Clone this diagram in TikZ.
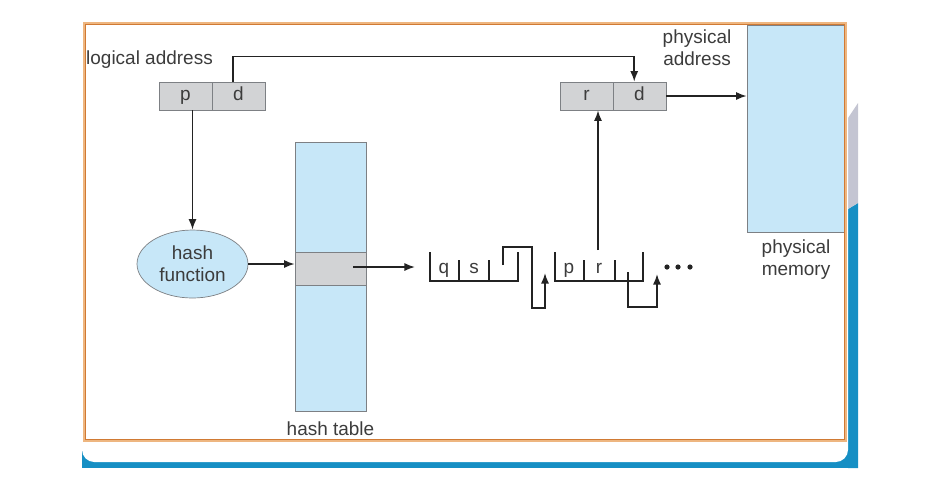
\documentclass[tikz,border=0pt]{standalone}
\usepackage{fontspec}
\setmainfont{Liberation Sans}
\usetikzlibrary{arrows.meta, shapes.geometric}

\definecolor{memblue}{RGB}{199,231,248}
\definecolor{cellgray}{RGB}{210,211,213}
\definecolor{edgegray}{RGB}{125,128,132}
\definecolor{textgray}{RGB}{60,60,60}
\definecolor{linegray}{RGB}{35,35,35}
\definecolor{frameorange}{RGB}{238,182,128}
\definecolor{framedark}{RGB}{208,122,52}
\definecolor{slideblue}{RGB}{22,143,196}
\definecolor{wedgegray}{RGB}{196,197,210}

\begin{document}
\begin{tikzpicture}[x=0.02cm, y=-0.02cm,
    every node/.style={text=textgray, font=\fontsize{10.8}{12.5}\selectfont},
    cell/.style={draw=edgegray, fill=cellgray, minimum width=1.06cm, minimum height=0.56cm,
                 inner sep=0pt, text height=7.7pt, text depth=2.2pt},
    block/.style={draw=edgegray, fill=memblue, inner sep=0pt},
    arr/.style={draw=linegray, line width=0.95pt, -{Latex[length=6pt,width=4.6pt]}},
    link/.style={draw=linegray, line width=0.95pt}]
    \useasboundingbox (0,0) rectangle (932,478);

    % slide background
    \fill[slideblue] (82,440) rectangle (858,468);
    \fill[slideblue] (848,209) -- (858,203) -- (858,468) -- (848,468) -- cycle;
    \fill[wedgegray] (848,118) -- (858,103) -- (858,203) -- (848,209) -- cycle;
    \fill[white, rounded corners=7pt] (82,0) rectangle (848,462);

    % boxes
    \node[cell] (lp) at (185.5,96) {p};
    \node[cell] (ld) at (238.5,96) {d};
    \node[cell] (pr) at (586.5,96) {r};
    \node[cell] (pd) at (639.5,96) {d};
    \node[block, minimum width=1.96cm, minimum height=4.14cm] (mem) at (796,128.5) {};
    \node[block, minimum width=1.42cm, minimum height=5.38cm] (htab) at (330.5,276.5) {};
    \node[cell, minimum width=1.42cm, minimum height=0.66cm] (hrow) at (330.5,268.5) {};
    \node[ellipse, draw=edgegray, fill=memblue, minimum width=2.22cm, minimum height=1.36cm,
          inner sep=0pt, align=center] (hfn) at (192.5,264) {hash\\function};

    % labels
    \node (laddr) at (149.5,60) {logical address};
    \node[align=center] (paddr) at (697,48) {physical\\address};
    \node[align=center] (pmem) at (796,260) {physical\\memory};
    \node (hlab) at (330.5,429) {hash table};

    % arrows
    \draw[arr] ([xshift=-3pt]ld.north) -- ++(0,-25) -| ([xshift=-3pt]pd.north);
    \draw[arr] (lp.south -| hfn.north) -- (hfn.north);
    \draw[arr] (hfn.east) -- (hfn.east -| hrow.west);
    \draw[arr] (pd.east) -- (pd.east -| mem.west);
    \coordinate (hin) at (353,267);
    \coordinate (qin) at (415,267);
    \draw[arr] (hin) -- (qin);
    \coordinate (rlink) at (598,250);
    \draw[arr] (rlink) -- (rlink |- pr.south);

    % chain elements
    \draw[link] (430,252) -- (430,281) -- (518,281) -- (518,252); % first
    \foreach \x in {459,489} \draw[link] (\x,260) -- (\x,281);
    \draw[link] (555,252) -- (555,281) -- (643,281) -- (643,252); % second
    \foreach \x in {584,615} \draw[link] (\x,260) -- (\x,281);
    \node[anchor=base] (fq) at (444,273) {q};
    \node[anchor=base] (fs) at (474,273) {s};
    \node[anchor=base] (fp) at (569,273) {p};
    \node[anchor=base] (fr) at (599,273) {r};
    \draw[arr] (503,265) -- (503,247) -- (532,247) -- (532,308) -- (545,308) -- (545,273);
    \draw[arr] (628,272) -- (628,307) -- (657,307) -- (657,274);
    \foreach \x in {667,678,690} \fill[linegray] (\x,267) circle (2.6);

    % frame
    \draw[frameorange, line width=1.6pt] (84,23) rectangle (846,441);
    \draw[framedark, line width=0.5pt] (85.5,24.5) rectangle (844.5,439.5);
\end{tikzpicture}
\end{document}
